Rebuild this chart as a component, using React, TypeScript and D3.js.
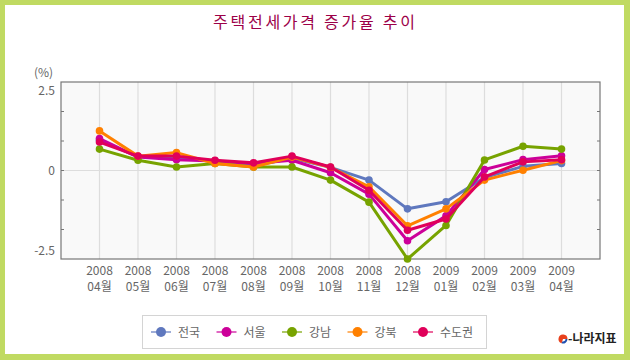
import React, { useEffect, useRef } from "react";
import * as d3 from "d3";

// months on the x axis (two-line labels)
const years = ["2008", "2008", "2008", "2008", "2008", "2008", "2008", "2008", "2008", "2009", "2009", "2009", "2009"];
const months = ["04월", "05월", "06월", "07월", "08월", "09월", "10월", "11월", "12월", "01월", "02월", "03월", "04월"];

const seriesNames = ["전국", "서울", "강남", "강북", "수도권"];
const seriesColors = ["#5f78be", "#cc0099", "#77a300", "#ff8000", "#e0005a"];

const national = [0.95, 0.43, 0.4, 0.3, 0.15, 0.38, 0.1, -0.3, -1.2, -0.98, -0.22, 0.13, 0.22];
const seoul = [1.0, 0.42, 0.34, 0.3, 0.22, 0.32, -0.07, -0.74, -2.2, -1.42, 0.03, 0.34, 0.46];
const gangnam = [0.67, 0.32, 0.11, 0.22, 0.11, 0.11, -0.3, -0.99, -2.77, -1.72, 0.33, 0.76, 0.67];
const gangbuk = [1.24, 0.45, 0.56, 0.22, 0.11, 0.42, 0.1, -0.51, -1.73, -1.2, -0.3, 0.01, 0.31];
const capital = [0.89, 0.45, 0.45, 0.32, 0.24, 0.45, 0.11, -0.62, -1.87, -1.52, -0.2, 0.27, 0.34];

const yLabels = [2.5, 0, -2.5];

const allSeries = [national, seoul, gangnam, gangbuk, capital];

const font = "'Noto Sans CJK KR', 'DejaVu Sans', sans-serif";

function App() {
  const ref = useRef<SVGSVGElement | null>(null);

  useEffect(() => {
    const svg = d3.select(ref.current);
    svg.selectAll("*").remove();

    const W = 630, H = 360;
    const left = 61, right = 600, top = 82, bottom = 259;

    // frame
    svg.append("rect").attr("width", W).attr("height", H).attr("fill", "#c0da62");
    svg.append("rect").attr("x", 5).attr("y", 5).attr("width", 619).attr("height", 349).attr("fill", "#fff");

    svg.append("text")
      .attr("x", 213).attr("y", 28)
      .attr("textLength", 202).attr("lengthAdjust", "spacing")
      .attr("font-family", font).attr("font-size", 16)
      .attr("fill", "#9c0048")
      .text("주택전세가격 증가율 추이");

    const x = d3.scalePoint<number>()
      .domain(d3.range(months.length))
      .range([left, right])
      .padding(1);

    const y = d3.scaleLinear().domain([-2.77, 2.77]).range([bottom, top]);

    const plot = svg.append("g");
    plot.append("rect")
      .attr("x", left).attr("y", top)
      .attr("width", right - left).attr("height", bottom - top)
      .attr("fill", "#f9f9f9");

    // vertical grid
    plot.selectAll("line.vg")
      .data(d3.range(months.length)).enter()
      .append("line")
      .attr("x1", d => x(d)!).attr("x2", d => x(d)!)
      .attr("y1", top).attr("y2", bottom)
      .attr("stroke", "#dddddd").attr("stroke-width", 1.2);

    // zero line
    plot.append("line")
      .attr("x1", left).attr("x2", right)
      .attr("y1", y(0)).attr("y2", y(0))
      .attr("stroke", "#dddddd").attr("stroke-width", 1.2);

    // small ticks on both sides (6 even divisions)
    const tickYs = d3.range(1, 6).map(i => top + (bottom - top) * i / 6);
    tickYs.forEach(t => {
      plot.append("line").attr("x1", left).attr("x2", left + 3).attr("y1", t).attr("y2", t).attr("stroke", "#777");
      plot.append("line").attr("x1", right - 3).attr("x2", right).attr("y1", t).attr("y2", t).attr("stroke", "#777");
    });

    plot.append("rect")
      .attr("x", left).attr("y", top)
      .attr("width", right - left).attr("height", bottom - top)
      .attr("fill", "none").attr("stroke", "#777").attr("stroke-width", 1.2);

    // y labels
    svg.selectAll("text.yl")
      .data(yLabels).enter()
      .append("text")
      .attr("x", 55).attr("y", d => y(d) + 4.5)
      .attr("text-anchor", "end")
      .attr("font-family", font).attr("font-size", 12)
      .attr("fill", "#666")
      .text(d => d === 0 ? "0" : String(d));

    svg.append("text")
      .attr("x", 34).attr("y", 77)
      .attr("font-family", font).attr("font-size", 12)
      .attr("fill", "#666")
      .text("(%)");

    // x labels
    const xl = svg.selectAll("g.xl")
      .data(d3.range(months.length)).enter()
      .append("g")
      .attr("transform", d => "translate(" + x(d) + ",0)");
    xl.append("text")
      .attr("y", 275).attr("text-anchor", "middle")
      .attr("font-family", font).attr("font-size", 12).attr("fill", "#666")
      .text(d => years[d]);
    xl.append("text")
      .attr("y", 291).attr("text-anchor", "middle")
      .attr("font-family", font).attr("font-size", 12).attr("fill", "#666")
      .text(d => months[d]);

    // lines
    const line = d3.line<number>()
      .x((d, i) => x(i)!)
      .y(d => y(d));

    allSeries.forEach((s, k) => {
      const g = svg.append("g");
      g.append("path")
        .attr("d", line(s))
        .attr("fill", "none")
        .attr("stroke", seriesColors[k])
        .attr("stroke-width", 3)
        .attr("stroke-linejoin", "round");
      g.selectAll("circle")
        .data(s).enter()
        .append("circle")
        .attr("cx", (d, i) => x(i)!)
        .attr("cy", d => y(d))
        .attr("r", 3.8)
        .attr("fill", seriesColors[k]);
    });

    // legend
    svg.append("rect")
      .attr("x", 142.5).attr("y", 315.5)
      .attr("width", 344).attr("height", 33)
      .attr("fill", "#fff").attr("stroke", "#d4d4d4");

    const lg = svg.selectAll("g.lg")
      .data(seriesNames).enter()
      .append("g")
      .attr("transform", (d, i) => "translate(" + (161 + i * 65.5) + ",332)");
    lg.append("line")
      .attr("x1", -10).attr("x2", 10)
      .attr("stroke", (d, i) => seriesColors[i]).attr("stroke-width", 1.2);
    lg.append("circle")
      .attr("r", 5)
      .attr("fill", (d, i) => seriesColors[i]);
    lg.append("text")
      .attr("x", 17).attr("y", 4.5)
      .attr("font-family", font).attr("font-size", 12).attr("fill", "#666")
      .text(d => d);

    // source mark
    svg.append("path")
      .attr("d", d3.arc()({ innerRadius: 0, outerRadius: 4.5, startAngle: -Math.PI * 0.9, endAngle: Math.PI * 0.5 }) as string)
      .attr("transform", "translate(563,339)")
      .attr("fill", "#e8401c");
    svg.append("path")
      .attr("d", d3.arc()({ innerRadius: 2.5, outerRadius: 4.5, startAngle: Math.PI * 0.5, endAngle: Math.PI * 1.1 }) as string)
      .attr("transform", "translate(563,339)")
      .attr("fill", "#2050b0");
    svg.append("text")
      .attr("x", 568).attr("y", 343)
      .attr("font-family", font).attr("font-size", 12).attr("font-weight", "bold")
      .attr("fill", "#222")
      .text("-나라지표");
  }, []);

  return (
    <svg
      ref={ref}
      width={630}
      height={360}
      style={{ position: "absolute", left: 0, top: 0, display: "block" }}
    />
  );
}

export default App;
